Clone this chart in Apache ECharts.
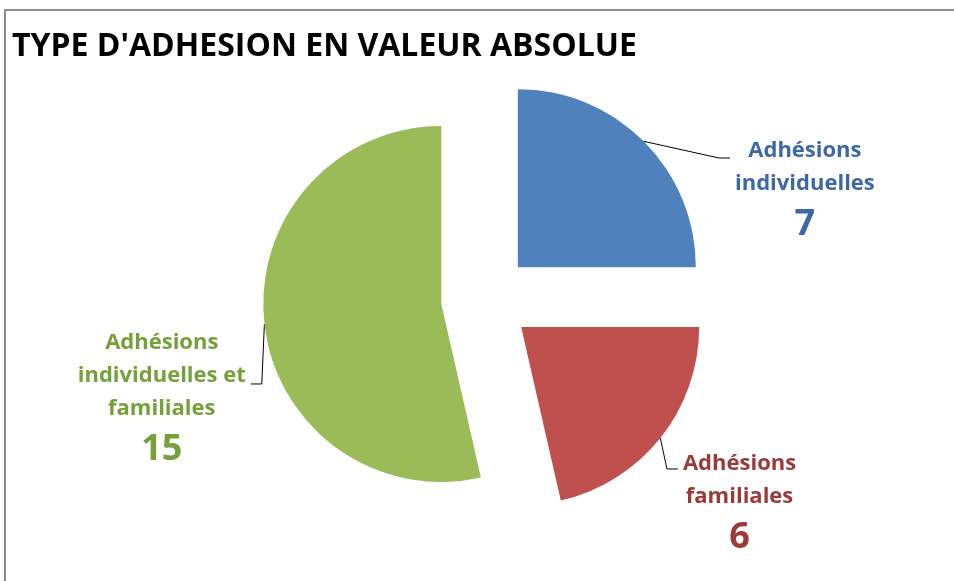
<!DOCTYPE html>
<html>
<head>
<meta charset="utf-8">
<script src="https://cdn.jsdelivr.net/npm/echarts@6/dist/echarts.min.js"></script>
<style>
  html, body { margin: 0; padding: 0; background: #fff; }
  #main { width: 954px; height: 581px; }
</style>
</head>
<body>
<div id="main"></div>
<script>
const categories = ["Adhésions\nindividuelles", "Adhésions\nfamiliales", "Adhésions\nindividuelles et\nfamiliales"];
const values = [7, 6, 15];
const sliceColors = ["#4F81BD", "#C0504D", "#9BBB59"];
const labelColors = ["#3E68A4", "#9B3A38", "#76A03A"];

// leader line lengths and label top padding, per slice
const lineLen = [-23.6, 49.6, 536];
const lineLen2 = [103, -21.2, -519];
const labelPadTop = [67, 71, 32];

let chart = echarts.init(document.getElementById("main"));

let option = {
  backgroundColor: "#fff",
  animation: false,
  graphic: [{
    type: "rect",
    shape: { x: 5, y: 10, width: 960, height: 600 },
    style: { fill: "none", stroke: "#8c8c8c", lineWidth: 2 },
    silent: true
  }],
  title: {
    text: "TYPE D'ADHESION EN VALEUR ABSOLUE",
    left: 7,
    top: 26,
    textStyle: { fontFamily: "Open Sans", fontWeight: "bold", fontSize: 32, color: "#000" }
  },
  series: [{
    type: "pie",
    center: [486, 299],
    radius: 178,
    startAngle: 90,
    clockwise: true,
    selectedMode: "multiple",
    selectedOffset: 45,
    emphasis: { disabled: true },
    data: categories.map((c, i) => ({
      name: c,
      value: values[i],
      selected: true,
      itemStyle: { color: sliceColors[i] },
      label: { color: labelColors[i], padding: [labelPadTop[i], 0, 0, 0] },
      labelLine: { length: lineLen[i], length2: lineLen2[i] }
    })),
    label: {
      show: true,
      position: "outside",
      alignTo: "none",
      fontFamily: "Open Sans",
      fontWeight: "bold",
      formatter: (p) => p.name.split("\n").map(s => "{n|" + s + "}").join("\n") + "\n{v|" + p.value + "}",
      rich: {
        n: { fontSize: 22, fontWeight: "bold", fontFamily: "Open Sans", lineHeight: 33, align: "center" },
        v: { fontSize: 36, fontWeight: "bold", fontFamily: "Open Sans", lineHeight: 48, align: "center" }
      }
    },
    labelLine: {
      show: true,
      lineStyle: { color: "#000", width: 1 }
    },
    labelLayout: (p) => {
      // Excel style leader: straight from the slice, short horizontal tail
      let pts = p.labelLinePoints;
      if (!pts) return {};
      let a = pts[0], e = pts[pts.length - 1];
      let tail = e[0] > a[0] ? -11 : 11;
      return { labelLinePoints: [a, [e[0] + tail, e[1]], e] };
    }
  }]
};
chart.setOption(option);
</script>
</body>
</html>
